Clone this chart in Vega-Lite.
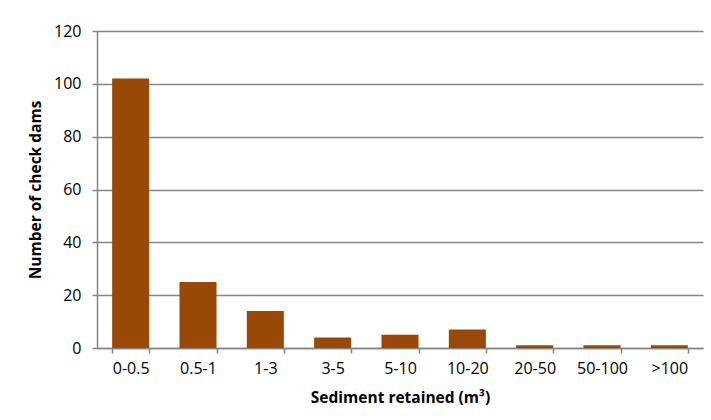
{
  "$schema": "https://vega.github.io/schema/vega-lite/v6.json",
  "width": 606,
  "height": 317,
  "autosize": "none",
  "padding": {"left": 97, "top": 31, "right": 8, "bottom": 72},
  "background": "white",
  "config": {
    "view": {"stroke": null},
    "font": "Open Sans",
    "axis": {
      "domainColor": "#868686",
      "domainWidth": 1.5,
      "tickColor": "#868686",
      "tickWidth": 1.5,
      "tickSize": 5,
      "gridColor": "#868686",
      "gridWidth": 1.5,
      "labelFont": "Open Sans",
      "labelFontSize": 16,
      "labelColor": "#000000",
      "titleFont": "Open Sans",
      "titleFontSize": 15.5,
      "titleFontWeight": "bold",
      "titleColor": "#000000"
    }
  },
  "data": {
    "values": [
      {"range": "0-0.5", "count": 102},
      {"range": "0.5-1", "count": 25},
      {"range": "1-3", "count": 14},
      {"range": "3-5", "count": 4},
      {"range": "5-10", "count": 5},
      {"range": "10-20", "count": 7},
      {"range": "20-50", "count": 1},
      {"range": "50-100", "count": 1},
      {"range": ">100", "count": 1}
    ]
  },
  "mark": {"type": "bar", "color": "#984807"},
  "encoding": {
    "x": {
      "field": "range",
      "type": "nominal",
      "sort": null,
      "scale": {"paddingInner": 0.45, "paddingOuter": 0.225},
      "axis": {
        "title": "Sediment retained (m³)",
        "labelAngle": 0,
        "tickBand": "extent",
        "grid": false,
        "labelPadding": 7,
        "titlePadding": 14
      }
    },
    "y": {
      "field": "count",
      "type": "quantitative",
      "scale": {"domain": [0, 120], "nice": false},
      "axis": {
        "title": "Number of check dams",
        "values": [0, 20, 40, 60, 80, 100, 120],
        "labelPadding": 11,
        "titlePadding": 10
      }
    }
  }
}
